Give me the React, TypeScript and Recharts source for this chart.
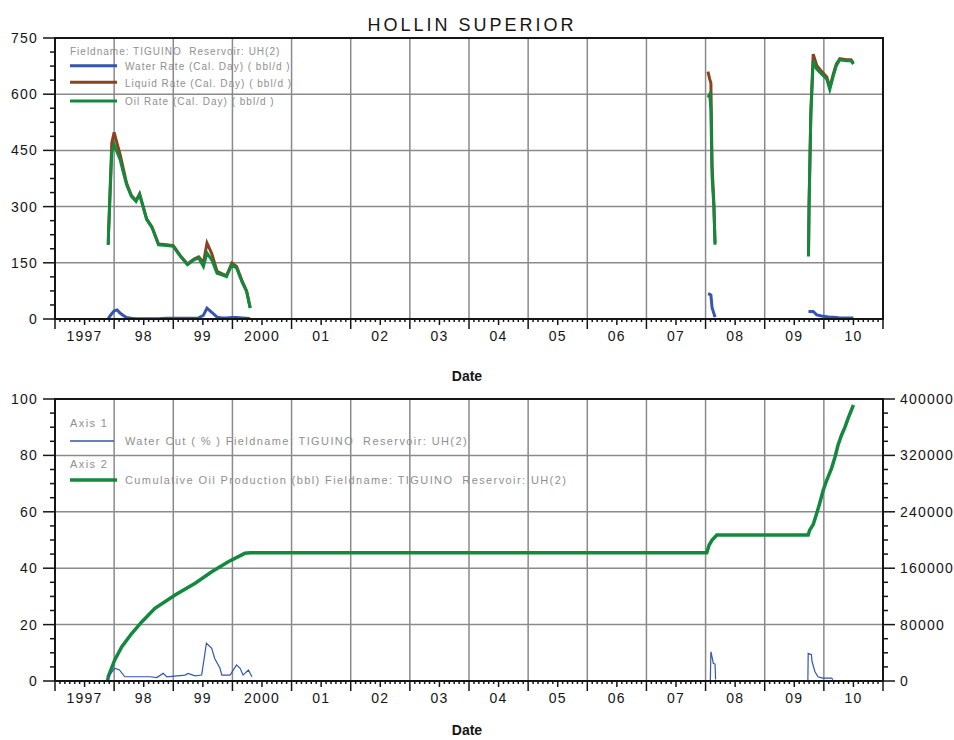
import React from 'react'
import { CartesianGrid, Line, LineChart, ReferenceArea, XAxis, YAxis } from 'recharts'

// date axis in decimal years; labels sit in the middle of each year
const yearTicks = [1997, 1998, 1999, 2000, 2001, 2002, 2003, 2004, 2005, 2006, 2007, 2008, 2009, 2010, 2011]
const yearLabels = ['1997', '98', '99', '2000', '01', '02', '03', '04', '05', '06', '07', '08', '09', '10']

// rates (bbl/d); the null rows split the three producing periods
const rateTimes = [
  1997.9, 1997.905, 1997.93, 1997.96, 1998.0, 1998.05, 1998.1, 1998.15, 1998.21, 1998.29, 1998.37,
  1998.43, 1998.47, 1998.55, 1998.64, 1998.75, 1998.89, 1999.0, 1999.12, 1999.24, 1999.35, 1999.43,
  1999.51, 1999.57, 1999.65, 1999.74, 1999.82, 1999.9, 1999.99, 2000.07, 2000.16, 2000.24, 2000.3,
  2004.0,
  2008.04, 2008.07, 2008.09, 2008.11, 2008.14, 2008.16,
  2009.0,
  2009.74, 2009.75, 2009.78, 2009.82, 2009.88, 2009.96, 2010.05, 2010.1, 2010.16, 2010.21, 2010.27,
  2010.38, 2010.46, 2010.5,
]
const oilRate = [
  198, 225, 327, 444, 466, 445, 426, 395, 359, 328, 314,
  332, 310, 265, 244, 198, 196, 194, 167, 145, 158, 163,
  140, 176, 158, 122, 118, 113, 145, 136, 100, 73, 29,
  null,
  591, 600, 560, 381, 300, 198,
  null,
  167, 301, 542, 689, 667, 654, 640, 613, 649, 676, 692,
  689, 689, 680,
]
const liquidRate = [
  198, 230, 340, 470, 498, 468, 440, 405, 363, 330, 316,
  334, 312, 267, 246, 200, 198, 196, 169, 147, 160, 166,
  150, 203, 175, 127, 121, 116, 149, 140, 103, 75, 30,
  null,
  660, 640, 630, 408, 312, 203,
  null,
  170, 310, 555, 707, 677, 661, 646, 618, 654, 680, 695,
  692, 692, 683,
]
const waterRate = [
  0, 2, 8, 14, 22, 24, 16, 10, 4, 2, 1,
  1, 1, 1, 1, 1, 2, 2, 2, 2, 2, 3,
  10, 29, 18, 5, 3, 3, 4, 4, 3, 2, 1,
  null,
  67, 66, 64, 30, 15, 5,
  null,
  20, 20, 20, 20, 11, 8, 6, 5, 5, 4, 3,
  3, 3, 3,
]

// cumulative oil (bbl), right axis
const cumTimes = [
  1997.89, 1997.9, 1998.01, 1998.13, 1998.3, 1998.47, 1998.69, 1999.03, 1999.37, 1999.65, 1999.93,
  2000.21, 2000.3, 2008.02, 2008.06, 2008.11, 2008.19, 2009.735, 2009.76, 2009.82, 2009.88, 2009.93,
  2009.99, 2010.05, 2010.13, 2010.19, 2010.24, 2010.3, 2010.36, 2010.41, 2010.5,
]
const cumOil = [
  0, 6000, 29800, 48700, 67700, 84100, 103100, 122000, 138600, 155000, 169200,
  181100, 182000, 182000, 192900, 200000, 207000, 207000, 214000, 222000, 237900, 252000,
  270900, 285100, 301700, 318200, 334800, 349000, 360800, 372600, 391500,
]

// water cut (%), left axis
const cutTimes = [
  1997.9, 1998.01, 1998.09, 1998.18, 1998.61, 1998.72, 1998.83, 1998.89, 1999.2, 1999.25, 1999.37,
  1999.48, 1999.56, 1999.65, 1999.7, 1999.79, 1999.82, 1999.96, 2000.07, 2000.13, 2000.18, 2000.27,
  2000.33,
  2004.0,
  2008.08, 2008.09, 2008.11, 2008.13, 2008.16, 2008.17,
  2009.0,
  2009.73, 2009.735, 2009.79, 2009.8, 2009.85, 2009.9, 2009.98, 2010.13, 2010.155,
]
const waterCut = [
  1.5, 4.5, 3.9, 1.5, 1.5, 1.2, 2.7, 1.5, 2.1, 2.7, 1.8,
  2.1, 13.4, 11.6, 8.0, 4.5, 2.1, 2.1, 5.7, 4.5, 2.1, 3.9,
  1.5,
  null,
  0, 10.4, 8.5, 6.3, 6.0, 0.5,
  null,
  0, 9.8, 9.3, 6.9, 3.3, 1.5, 1.0, 1.0, 0.5,
]

const rateTicks = [0, 150, 300, 450, 600, 750]
const cutTicks = [0, 20, 40, 60, 80, 100]
const cumTicks = [0, 80000, 160000, 240000, 320000, 400000]

const BLUE = '#3456b0'
const BROWN = '#8a4320'
const GREEN = '#13893e'
const GRID = '#8a8a8a'
const AXIS = '#151515'
const LEGEND_TEXT = '#8f8f8f'
const FONT = '"Liberation Sans", Arial, sans-serif'

const rateRows = rateTimes.map((t, i) => ({
  t,
  water: waterRate[i],
  liquid: liquidRate[i],
  oil: oilRate[i],
}))
const cumRows = cumTimes.map((t, i) => ({ t, cum: cumOil[i] }))
const cutRows = cutTimes.map((t, i) => ({ t, cut: waterCut[i] }))

// majors plus evenly spaced minor ticks between them
const withMinor = (majors: number[], parts: number) => {
  const out: number[] = [majors[0]]
  for (let i = 1; i < majors.length; i++) {
    const step = (majors[i] - majors[i - 1]) / parts
    for (let k = 1; k <= parts; k++) out.push(majors[i - 1] + step * k)
  }
  return out
}

const monthTicks = yearTicks.flatMap((y, i) =>
  i === yearTicks.length - 1 ? [y] : Array.from({ length: 12 }, (_, m) => y + m / 12)
)

const DateTick = ({ x, y, payload }: any) => {
  const v: number = payload.value
  const month = Math.round((v - Math.floor(v)) * 12)
  const len = month === 0 ? 10 : month === 6 ? 6 : 3
  return (
    <g>
      <line x1={x} x2={x} y1={y} y2={y + len} stroke={AXIS} strokeWidth={1.5} />
      {month === 6 && (
        <text
          x={x}
          y={y + 22}
          textAnchor="middle"
          fontFamily={FONT}
          fontSize={14}
          letterSpacing={1.2}
          fill={AXIS}
        >
          {yearLabels[Math.floor(v) - yearTicks[0]]}
        </text>
      )}
    </g>
  )
}

const ValueTick = ({ x, y, payload, majors, side }: any) => {
  const v: number = payload.value
  const major = majors.some((m: number) => Math.abs(m - v) < 1e-6)
  const dir = side === 'left' ? -1 : 1
  const len = major ? 12 : 5
  return (
    <g>
      <line x1={x} x2={x + dir * len} y1={y} y2={y} stroke={AXIS} strokeWidth={1.5} />
      {major && (
        <text
          x={x + dir * 17}
          y={y + 5}
          textAnchor={side === 'left' ? 'end' : 'start'}
          fontFamily={FONT}
          fontSize={14}
          letterSpacing={1.2}
          fill={AXIS}
        >
          {v}
        </text>
      )}
    </g>
  )
}

const dateAxisProps = {
  dataKey: 't',
  type: 'number' as const,
  domain: [1997, 2011],
  ticks: monthTicks,
  interval: 0 as const,
  tickSize: 0,
  tickMargin: 0,
  tickLine: false,
  allowDataOverflow: true,
  axisLine: { stroke: AXIS, strokeWidth: 2 },
  tick: <DateTick />,
}

const valueAxisProps = {
  type: 'number' as const,
  interval: 0 as const,
  tickSize: 0,
  tickMargin: 0,
  tickLine: false,
  allowDataOverflow: true,
  axisLine: { stroke: AXIS, strokeWidth: 2 },
}

const seriesProps = {
  type: 'linear' as const,
  dot: false,
  activeDot: false,
  isAnimationActive: false,
  connectNulls: false,
}

const legendText = (x: number, y: number, s: string, size = 10, spacing = 1) => (
  <text
    x={x}
    y={y}
    fontFamily={FONT}
    fontSize={size}
    letterSpacing={spacing}
    fill={LEGEND_TEXT}
    style={{ whiteSpace: 'pre' }}
  >
    {s}
  </text>
)

const App = () => {
  return (
    <div style={{ position: 'absolute', left: 0, top: 0, width: 954, height: 740, background: '#fff' }}>
      <div style={{ position: 'absolute', left: 0, top: 0 }}>
        <LineChart width={954} height={390} data={rateRows} margin={{ top: 38, right: 71, bottom: 11, left: 10 }}>
          <CartesianGrid stroke={GRID} strokeWidth={1.5} verticalValues={yearTicks} horizontalValues={rateTicks} />
          <XAxis {...dateAxisProps} height={60} />
          <YAxis
            {...valueAxisProps}
            domain={[0, 750]}
            ticks={withMinor(rateTicks, 4)}
            width={45}
            tick={<ValueTick majors={rateTicks} side="left" />}
          />
          <ReferenceArea x1={1997} x2={2011} y1={0} y2={750} fill="none" fillOpacity={0} stroke={AXIS} strokeWidth={2} />
          <Line {...seriesProps} dataKey="liquid" stroke={BROWN} strokeWidth={3} />
          <Line {...seriesProps} dataKey="oil" stroke={GREEN} strokeWidth={3} />
          <Line {...seriesProps} dataKey="water" stroke={BLUE} strokeWidth={3} />
        </LineChart>
      </div>

      <div style={{ position: 'absolute', left: 0, top: 360 }}>
        <LineChart width={954} height={380} margin={{ top: 39, right: 0, bottom: 9, left: 10 }}>
          <CartesianGrid stroke={GRID} strokeWidth={1.5} verticalValues={yearTicks} horizontalValues={cutTicks} />
          <XAxis {...dateAxisProps} height={50} />
          <YAxis
            {...valueAxisProps}
            domain={[0, 100]}
            ticks={withMinor(cutTicks, 4)}
            width={45}
            tick={<ValueTick majors={cutTicks} side="left" />}
          />
          <YAxis
            {...valueAxisProps}
            yAxisId="cum"
            orientation="right"
            domain={[0, 400000]}
            ticks={withMinor(cumTicks, 4)}
            width={71}
            tick={<ValueTick majors={cumTicks} side="right" />}
          />
          <ReferenceArea x1={1997} x2={2011} y1={0} y2={100} fill="none" fillOpacity={0} stroke={AXIS} strokeWidth={2} />
          <Line {...seriesProps} data={cumRows} dataKey="cum" yAxisId="cum" stroke={GREEN} strokeWidth={3.5} />
          <Line {...seriesProps} data={cutRows} dataKey="cut" stroke={BLUE} strokeWidth={1.2} />
        </LineChart>
      </div>

      {/* title, axis titles and legends */}
      <svg width={954} height={740} style={{ position: 'absolute', left: 0, top: 0, pointerEvents: 'none' }}>
        <text x={472} y={31} textAnchor="middle" fontFamily={FONT} fontSize={18} letterSpacing={3} fill={AXIS}>
          HOLLIN SUPERIOR
        </text>
        <text x={467} y={381} textAnchor="middle" fontFamily={FONT} fontSize={14} fontWeight="bold" fill={AXIS}>
          Date
        </text>
        <text x={467} y={735} textAnchor="middle" fontFamily={FONT} fontSize={14} fontWeight="bold" fill={AXIS}>
          Date
        </text>

        {legendText(70, 54.5, 'Fieldname: TIGUINO  Reservoir: UH(2)')}
        <line x1={70} x2={117} y1={65.7} y2={65.7} stroke={BLUE} strokeWidth={3} />
        {legendText(125, 69.5, 'Water Rate (Cal. Day) ( bbl/d )')}
        <line x1={70} x2={117} y1={82.3} y2={82.3} stroke={BROWN} strokeWidth={3} />
        {legendText(125, 86.8, 'Liquid Rate (Cal. Day) ( bbl/d )')}
        <line x1={70} x2={117} y1={101} y2={101} stroke={GREEN} strokeWidth={3} />
        {legendText(125, 105.3, 'Oil Rate (Cal. Day) ( bbl/d )')}

        {legendText(70, 426.7, 'Axis 1', 11, 1.4)}
        <line x1={70} x2={114} y1={441} y2={441} stroke={BLUE} strokeWidth={1.5} />
        {legendText(125, 444.7, 'Water Cut ( % ) Fieldname: TIGUINO  Reservoir: UH(2)', 11, 1.4)}
        {legendText(70, 468, 'Axis 2', 11, 1.4)}
        <line x1={70} x2={117} y1={480} y2={480} stroke={GREEN} strokeWidth={3.5} />
        {legendText(125, 484, 'Cumulative Oil Production (bbl) Fieldname: TIGUINO  Reservoir: UH(2)', 11, 1.4)}
      </svg>
    </div>
  )
}

export default App
